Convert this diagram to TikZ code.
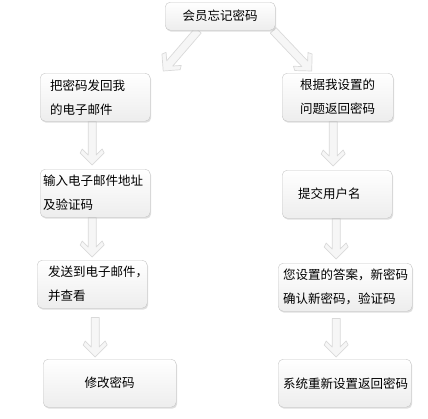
\documentclass[tikz,border=0pt]{standalone}
\usepackage{fontspec}
\newfontfamily\cjk{Noto Sans CJK SC}
\usetikzlibrary{calc,shadows,backgrounds}
\newcommand\fatarrow[2]{%
  \path ($(#2)!10pt!(#1)$) coordinate (fJ) ($(#2)!16pt!(#1)$) coordinate (fWi) ($(#2)!12pt!(#1)$) coordinate (fWo);
  \filldraw[flowarrow] ($(#1)!4pt!90:(#2)$) -- ($(fJ)!4pt!90:(#2)$) -- ($(fWi)!10pt!90:(#2)$)
    -- ($(fWo)!12pt!90:(#2)$) -- (#2) -- ($(fWo)!12pt!-90:(#2)$) -- ($(fWi)!10pt!-90:(#2)$)
    -- ($(fJ)!4pt!-90:(#2)$) -- ($(#1)!4pt!-90:(#2)$) -- cycle;}
\begin{document}
\begin{tikzpicture}[x=1pt,y=-1pt,
  fbox/.style={draw=gray!45, rounded corners=5pt, top color=white, bottom color=gray!14,
    drop shadow={shadow xshift=1pt, shadow yshift=-1.5pt, fill=gray!50, opacity=0.5},
    minimum height=48pt, align=left, anchor=north west, inner ysep=0pt,
    font=\cjk\fontsize{12.5}{24}\selectfont},
  flowarrow/.style={draw=gray!30, fill=gray!7, line width=0.7pt, line join=round}
]
\useasboundingbox (0,0) rectangle (428,418);

\node[fbox, align=center, minimum width=110pt, minimum height=28pt, inner xsep=0pt] (top) at (165,2) {会员忘记密码};

\node[fbox, text width=90pt, inner xsep=10pt] (l1) at (40,73) {把密码发回我\\的电子邮件};
\node[fbox, text width=75pt, inner xsep=18pt] (r1) at (282,73) {根据我设置的\\问题返回密码};

\node[fbox, text width=104pt, inner xsep=3pt] (l2) at (40,169) {输入电子邮件地址\\及验证码};
\node[fbox, text width=78pt, inner xsep=16pt] (r2) at (282,170) {提交用户名};

\node[fbox, text width=88pt, inner xsep=11pt] (l3) at (37,260) {发送到电子邮件，\\并查看};
\node[fbox, text width=124pt, inner xsep=5pt] (r3) at (278,263) {您设置的答案，新密码\\确认新密码，验证码};

\node[fbox, align=center, minimum width=133pt, inner xsep=0pt] (l4) at (43,359) {修改密码};
\node[fbox, text width=123pt, inner xsep=5pt] (r4) at (278,359) {系统重新设置返回密码};

\coordinate (a1s) at ([xshift=-22pt]top.south);
\coordinate (a1t) at ([xshift=68pt,yshift=2pt]l1.north);
\coordinate (a2s) at ([xshift=53pt]top.south);
\coordinate (a2t) at ([xshift=-26pt,yshift=2pt]r1.north);
\coordinate (a3s) at ([xshift=-3pt]l1.south);
\coordinate (a3t) at ([xshift=-3pt,yshift=4pt]l2.north);
\coordinate (a4s) at ([xshift=-3pt]l2.south);
\coordinate (a4t) at ([yshift=3pt]l3.north);
\coordinate (a5s) at ([xshift=3pt,yshift=-9pt]l3.south);
\coordinate (a5t) at ([xshift=3pt,yshift=2pt]l3.south |- l4.north);
\coordinate (a6s) at ([xshift=-4.5pt]r1.south);
\coordinate (a6t) at ([xshift=-4pt,yshift=4pt]r2.north);
\coordinate (a7s) at ([xshift=-1pt]r2.south);
\coordinate (a7t) at ([xshift=-1pt,yshift=4pt]r2.south |- r3.north);
\coordinate (a8s) at ([xshift=-9pt,yshift=-7pt]r3.south);
\coordinate (a8t) at ([xshift=-9pt,yshift=2pt]r3.south |- r4.north);

\begin{scope}[on background layer]
\fatarrow{a1s}{a1t}
\fatarrow{a2s}{a2t}
\fatarrow{a3s}{a3t}
\fatarrow{a4s}{a4t}
\fatarrow{a5s}{a5t}
\fatarrow{a6s}{a6t}
\fatarrow{a7s}{a7t}
\fatarrow{a8s}{a8t}
\end{scope}
\end{tikzpicture}
\end{document}
